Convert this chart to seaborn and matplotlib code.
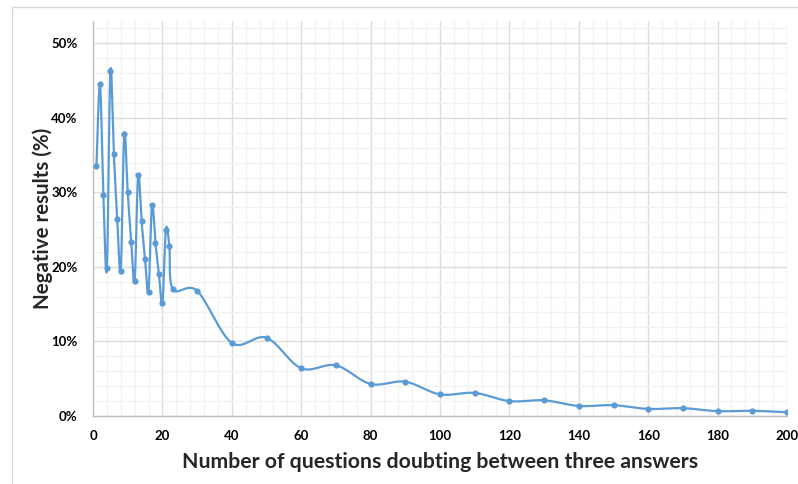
import numpy as np
import pandas as pd
import matplotlib
matplotlib.use("Agg")
import matplotlib.pyplot as plt
from matplotlib.patches import Rectangle
from matplotlib.ticker import MultipleLocator, FuncFormatter
import seaborn as sns

# 数据：横轴为犹豫题目数量，纵轴为阴性结果百分比
questions = [1, 2, 3, 4, 5, 6, 7, 8, 9, 10, 11, 12, 13, 14, 15, 16, 17, 18, 19, 20,
             21, 22, 23, 30, 40, 50, 60, 70, 80, 90, 100, 110, 120, 130, 140, 150,
             160, 170, 180, 190, 200]
negative_pct = [33.5, 44.5, 29.7, 19.8, 46.3, 35.2, 26.4, 19.5, 37.8, 30.1, 23.4, 18.1,
                32.3, 26.1, 21.0, 16.7, 28.3, 23.2, 19.0, 15.1, 25.0, 22.8, 17.0,
                16.8, 9.8, 10.5, 6.4, 6.8, 4.3, 4.6, 2.9, 3.1, 2.0, 2.1, 1.35, 1.45,
                0.95, 1.05, 0.65, 0.7, 0.5]

x_ticks = list(range(0, 201, 20))
y_ticks = list(range(0, 51, 10))
x_label = "Number of questions doubting between three answers"
y_label = "Negative results (%)"

LINE_COLOR = "#5B9BD5"


def smooth_curve(xs, ys, n=30):
    """Excel 风格的平滑曲线（Catmull-Rom / Bezier）"""
    p = np.column_stack([xs, ys]).astype(float)
    p = np.vstack([p[0], p, p[-1]])
    out = []
    t = np.linspace(0, 1, n)[:, None]
    for i in range(1, len(p) - 2):
        p0, p1, p2, p3 = p[i - 1], p[i], p[i + 1], p[i + 2]
        c1 = p1 + (p2 - p0) / 6
        c2 = p2 - (p3 - p1) / 6
        seg = ((1 - t) ** 3) * p1 + 3 * ((1 - t) ** 2) * t * c1 + 3 * (1 - t) * t ** 2 * c2 + t ** 3 * p2
        out.append(seg if i == 1 else seg[1:])
    return np.vstack(out)


sns.set_theme(style="white")
plt.rcParams["font.family"] = ["Lato", "DejaVu Sans"]

fig = plt.figure(figsize=(7.98, 4.84), dpi=100)
ax = fig.add_axes([93 / 798, 68 / 484, 694 / 798, 395 / 484])

# 外框
fig.patches.append(Rectangle((12 / 798, -0.1), 1.2, (484 - 7) / 484 + 0.1,
                             transform=fig.transFigure, fill=False,
                             edgecolor="#D9D9D9", linewidth=1, zorder=0))

curve = smooth_curve(questions, negative_pct)
curve_df = pd.DataFrame({"x": curve[:, 0], "y": curve[:, 1]})
points_df = pd.DataFrame({"x": questions, "y": negative_pct})

sns.lineplot(data=curve_df, x="x", y="y", sort=False, color=LINE_COLOR,
             linewidth=1.6, ax=ax, zorder=3)
sns.scatterplot(data=points_df, x="x", y="y", color=LINE_COLOR, s=20,
                edgecolor=LINE_COLOR, linewidth=0, ax=ax, zorder=4)

ax.set_xlim(0, 200)
ax.set_ylim(0, 53)
ax.set_xticks(x_ticks)
ax.set_yticks(y_ticks)
ax.xaxis.set_minor_locator(MultipleLocator(4))
ax.yaxis.set_minor_locator(MultipleLocator(2))
ax.yaxis.set_major_formatter(FuncFormatter(lambda v, _: f"{v:.0f}%"))

ax.grid(which="major", color="#DCDCDC", linewidth=1.0, zorder=0)
ax.grid(which="minor", color="#F2F2F2", linewidth=1.0, zorder=0)
ax.set_axisbelow(True)

for side in ["top", "right"]:
    ax.spines[side].set_visible(False)
for side in ["left", "bottom"]:
    ax.spines[side].set_color("#BFBFBF")
    ax.spines[side].set_linewidth(1.0)

ax.tick_params(axis="both", which="major", length=5, width=1, color="#BFBFBF",
               labelsize=9.5, labelcolor="black", direction="out")
ax.tick_params(axis="x", which="major", pad=5)
ax.tick_params(axis="y", which="major", pad=6)
ax.tick_params(which="minor", length=0)
for lab in ax.get_xticklabels() + ax.get_yticklabels():
    lab.set_fontweight("bold")

ax.set_xlabel(x_label, fontsize=15.3, fontweight="bold", labelpad=7)
ax.set_ylabel(y_label, fontsize=14.8, fontweight="bold", labelpad=-1)

fig.savefig("out.png", dpi=100)
plt.close(fig)
